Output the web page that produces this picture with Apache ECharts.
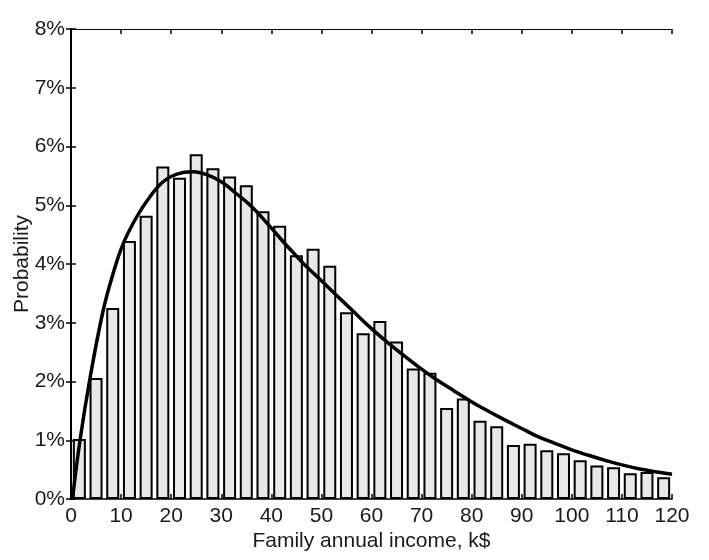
<!DOCTYPE html>
<html>
<head>
<meta charset="utf-8">
<script src="https://cdn.jsdelivr.net/npm/echarts@6/dist/echarts.min.js"></script>
<style>html,body{margin:0;padding:0;background:#fff;}#c{width:709px;height:560px;}</style>
</head>
<body>
<div id="c"></div>
<script>
// 36 histogram bins over 0..120 k$
const binLabels = ['0-3.3','3.3-6.7','6.7-10','10-13.3','13.3-16.7','16.7-20','20-23.3','23.3-26.7','26.7-30','30-33.3','33.3-36.7','36.7-40','40-43.3','43.3-46.7','46.7-50','50-53.3','53.3-56.7','56.7-60','60-63.3','63.3-66.7','66.7-70','70-73.3','73.3-76.7','76.7-80','80-83.3','83.3-86.7','86.7-90','90-93.3','93.3-96.7','96.7-100','100-103.3','103.3-106.7','106.7-110','110-113.3','113.3-116.7','116.7-120'];
const histValues = [1.02,2.06,3.25,4.39,4.82,5.66,5.47,5.87,5.63,5.49,5.34,4.90,4.65,4.15,4.26,3.97,3.18,2.82,3.03,2.68,2.22,2.15,1.55,1.71,1.33,1.24,0.92,0.94,0.83,0.78,0.66,0.57,0.54,0.44,0.46,0.37];
// fitted curve points [income k$, probability %]
const curveX = [0.3,1.8,3.8,6.4,8.45,10.45,13.1,15.8,18.4,21.1,24.4,27.1,30,33,36.4,39.7,43,46.4,49.7,53.0,56.4,60,63.0,66.5,70,73.0,76.5,79.7,83,86.3,90,93.0,96.5,99.6,103.5,107,110,113.6,117,120];
const curveY = [0.0,1.0,2.06,3.2,3.85,4.35,4.8,5.15,5.4,5.53,5.57,5.52,5.40,5.2,4.95,4.64,4.32,4.01,3.74,3.47,3.19,2.9,2.68,2.44,2.21,2.03,1.84,1.67,1.51,1.36,1.2,1.07,0.95,0.85,0.74,0.65,0.58,0.51,0.46,0.42];
const xTicks = [0,10,20,30,40,50,60,70,80,90,100,110,120];
const yTicks = [0,1,2,3,4,5,6,7,8];

const chart = echarts.init(document.getElementById('c'), null, {renderer:'canvas'});
const font = 'Liberation Sans, Arial, sans-serif';
const labelStyle = {fontFamily: font, fontSize: 21, color: '#1a1a1a'};
chart.setOption({
  animation: false,
  backgroundColor: '#fff',
  grid: {left: 71, right: 37, top: 29, bottom: 61, containLabel: false, outerBoundsMode: 'none'},
  xAxis: [
    {type: 'value', position: 'bottom', min: xTicks[0], max: xTicks[xTicks.length-1], interval: 10,
     axisLine: {show: true, onZero: false, lineStyle: {color: '#000', width: 1.5}},
     axisTick: {show: true, inside: true, length: 5, lineStyle: {color: '#000', width: 1.5}},
     axisLabel: Object.assign({margin: 7}, labelStyle),
     splitLine: {show: false},
     name: 'Family annual income, k$', nameLocation: 'middle', nameGap: 32, nameMoveOverlap: false,
     nameTextStyle: {fontFamily: font, fontSize: 21, color: '#1a1a1a'}},
    {type: 'value', position: 'top', min: 0, max: 120, interval: 10,
     axisLine: {show: true, onZero: false, lineStyle: {color: '#000', width: 1}},
     axisTick: {show: true, inside: true, length: 5, lineStyle: {color: '#000', width: 1.5}},
     axisLabel: {show: false}, splitLine: {show: false}},
    {type: 'category', data: binLabels, show: false, boundaryGap: true, position: 'bottom'}
  ],
  yAxis: [
    {type: 'value', position: 'left', min: yTicks[0], max: yTicks[yTicks.length-1], interval: 1,
     axisLine: {show: true, lineStyle: {color: '#000', width: 1.5}},
     axisTick: {show: true, inside: true, length: 5, lineStyle: {color: '#000', width: 1.5}},
     axisLabel: Object.assign({margin: 6, formatter: '{value}%'}, labelStyle),
     splitLine: {show: false},
     name: 'Probability', nameLocation: 'middle', nameGap: 38, nameRotate: 90, nameMoveOverlap: false,
     nameTextStyle: {fontFamily: font, fontSize: 21, color: '#1a1a1a'}},
    {type: 'value', position: 'right', min: 0, max: 8, interval: 1,
     axisLine: {show: true, lineStyle: {color: '#000', width: 2}},
     axisTick: {show: true, inside: true, length: 5, lineStyle: {color: '#000', width: 1.5}},
     axisLabel: {show: false}, splitLine: {show: false}}
  ],
  series: [
    {type: 'bar', xAxisIndex: 2, yAxisIndex: 0, data: histValues, barWidth: 13,
     itemStyle: {color: '#e8e8e8', borderColor: '#000', borderWidth: 2}, z: 2},
    {type: 'line', xAxisIndex: 0, yAxisIndex: 0, smooth: 0.4, symbol: 'none',
     data: curveX.map((x, i) => [x, curveY[i]]),
     lineStyle: {color: '#000', width: 3.5}, z: 5}
  ]
});
</script>
</body>
</html>
